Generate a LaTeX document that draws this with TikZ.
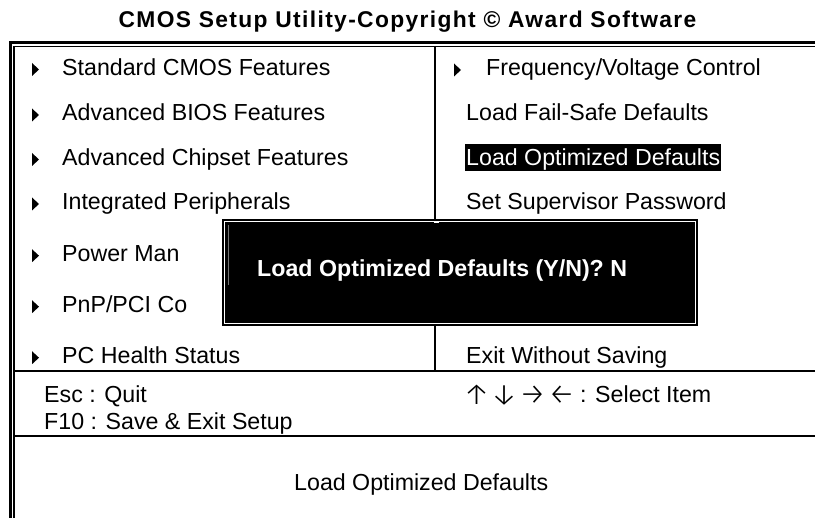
\documentclass[tikz,border=0pt]{standalone}
\usepackage{fontspec}
\setmainfont{Liberation Sans}
\newfontfamily\ttlfont[LetterSpace=6]{Liberation Sans}
\newfontfamily\arrowfont{Fira Sans Light}
\tikzset{
 item/.style={anchor=base west,inner sep=0pt,font=\fontsize{23.2}{26}\selectfont,text=black},
 arrowglyph/.style={anchor=base,inner sep=0pt,font=\arrowfont\fontsize{30}{34}\selectfont,text=black},
 ttl/.style={anchor=base,inner sep=0pt,font=\ttlfont\fontsize{22.8}{26}\selectfont\bfseries,text=black},
 rule/.style={line width=2pt,black,line cap=butt},
 tip/.style={fill=black,draw=none}
}
\newcommand{\tri}[2]{\fill[tip] (#1,#2-6.5) -- (#1+7,#2) -- (#1,#2+6.5) -- cycle;}
\begin{document}
\begin{tikzpicture}[x=1pt,y=-1pt]
\useasboundingbox[fill=white] (0,0) rectangle (815,518);
% frame
\draw[line width=2.4pt] (10.5,518) -- (10.5,42.5) -- (815,42.5);
\draw[line width=1.2pt] (14,518) -- (14,46.8) -- (815,46.8);
% dividers
\draw[rule] (14,371.5) -- (815,371.5);
\draw[rule] (14,436) -- (815,436);
\draw[rule] (435,46) -- (435,371);
% title
\node[ttl] (title) at (407.5,28) {CMOS Setup Utility-Copyright © Award Software};
% left column
\tri{32}{69.5}\tri{32}{115}\tri{32}{159.5}\tri{32}{204}\tri{32}{255.7}\tri{32}{306.7}\tri{32}{357.7}
\node[item] (a1) at (62,75.5) {Standard CMOS Features};
\node[item] (a2) at (62,120.5) {Advanced BIOS Features};
\node[item] (a3) at (62,165.5) {Advanced Chipset Features};
\node[item] (a4) at (62,210) {Integrated Peripherals};
\node[item] (a5) at (62,261.7) {Power Man};
\node[item] (a6) at (62,312.7) {PnP/PCI Co};
\node[item] (a7) at (62,363.3) {PC Health Status};
% right column
\tri{454}{70}
\node[item] (b1) at (486,75.5) {Frequency/Voltage Control};
\node[item] (b2) at (466,120.5) {Load Fail-Safe Defaults};
\fill[black] (465,144.3) rectangle (721,170.7);
\node[item,text=white] (b3) at (466,165.5) {Load Optimized Defaults};
\node[item] (b4) at (466,210) {Set Supervisor Password};
\node[item] (b7) at (466,363.3) {Exit Without Saving};
% popup
\fill[black] (222,219) rectangle (698,326);
\draw[white,line width=1.2pt] (224.5,221.5) rectangle (695.5,323.5);
\draw[white!45!black,line width=0.5pt] (228.5,225) -- (228.5,285);
\fill[white] (434,221.5) rectangle (439,223);
\node[item,font=\fontsize{23.2}{26}\selectfont\bfseries,text=white] (pop) at (257,277) {Load Optimized Defaults (Y/N)? N};
% help
\node[item] (h1) at (44,403) {Esc : Quit};
\node[item] (h2) at (44,430) {F10 : Save \& Exit Setup};
\node[arrowglyph] (up) at (476.7,405) {↑};
\node[arrowglyph] (down) at (504,405) {↓};
\node[arrowglyph] (right) at (532.7,405) {→};
\node[arrowglyph] (left) at (561.7,405) {←};
\node[item] (h3) at (580,403) {: Select Item};
\node[item] (h4) at (294,490.7) {Load Optimized Defaults};
\end{tikzpicture}
\end{document}
